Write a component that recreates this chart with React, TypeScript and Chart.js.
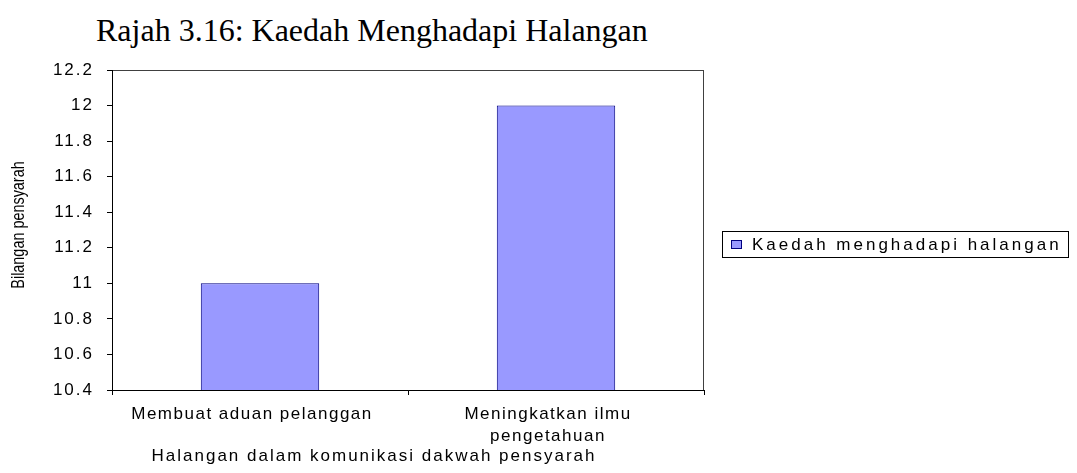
import React, { useEffect, useRef } from "react";
import { Chart, registerables } from "chart.js";

Chart.register(...registerables);

const chartTitle = "Rajah 3.16: Kaedah Menghadapi Halangan";
const categories: (string | string[])[] = [
  "Membuat aduan pelanggan",
  ["Meningkatkan ilmu", "pengetahuan"],
];
const seriesLabel = "Kaedah menghadapi halangan";
const seriesValues = [11, 12];
const yTickValues = [10.4, 10.6, 10.8, 11, 11.2, 11.4, 11.6, 11.8, 12, 12.2];
const yTickLabels = ["10.4", "10.6", "10.8", "11", "11.2", "11.4", "11.6", "11.8", "12", "12.2"];
const xAxisTitle = "Halangan dalam komunikasi dakwah pensyarah";
const yAxisTitle = "Bilangan pensyarah";

const SANS = '"Liberation Sans", Arial, sans-serif';

function wrapDraw(obj: any, method: string, spacing: string, dx: number, dy: number, sy: number) {
  const key = "__wrapped_" + method;
  if (obj[key]) return;
  const orig = obj[method];
  obj[method] = function (...args: any[]) {
    const c = this.ctx;
    c.save();
    (c as any).letterSpacing = spacing;
    const cy = (this.top + this.bottom) / 2;
    c.translate(dx, cy + dy);
    c.scale(1, sy);
    c.translate(0, -cy);
    const r = orig.apply(this, args);
    c.restore();
    return r;
  };
  obj[key] = true;
}

const textPlugin = {
  id: "textTweaks",
  beforeDraw(chart: any) {
    const x = chart.scales.x;
    const y = chart.scales.y;
    if (x) {
      wrapDraw(x, "drawLabels", "1.5px", -8, 0, 1);
      wrapDraw(x, "drawTitle", "2px", -34, 0, 1);
    }
    if (y) {
      wrapDraw(y, "drawLabels", "2px", 0, 0, 1);
      wrapDraw(y, "drawTitle", "0px", 0, -5, 0.8);
    }
  },
};

const framePlugin = {
  id: "frame",
  beforeDraw(chart: any) {
    const { ctx, chartArea } = chart;
    ctx.save();
    ctx.strokeStyle = "#404040";
    ctx.lineWidth = 1;
    ctx.strokeRect(
      Math.round(chartArea.left) + 0.5,
      Math.round(chartArea.top) + 0.5,
      Math.round(chartArea.right - chartArea.left) - 1,
      Math.round(chartArea.bottom - chartArea.top)
    );
    ctx.restore();
  },
};

const boxLegendPlugin = {
  id: "boxLegend",
  afterDraw(chart: any) {
    const { ctx, chartArea } = chart;
    const ds = chart.data.datasets[0];
    ctx.save();
    ctx.font = "17px " + SANS;
    (ctx as any).letterSpacing = "3px";
    const tw = ctx.measureText(ds.label).width;
    const pad = 9;
    const sw = 11;
    const sh = 9;
    const gap = 10;
    const w = Math.round(pad + sw + gap + tw + 6);
    const h = 26;
    const x = Math.round(chartArea.right + 18);
    const y = Math.round((chartArea.top + chartArea.bottom) / 2 + 1);
    ctx.fillStyle = "#ffffff";
    ctx.fillRect(x, y, w, h);
    ctx.strokeStyle = "#000000";
    ctx.lineWidth = 1;
    ctx.strokeRect(x + 0.5, y + 0.5, w, h);
    const sx = x + pad;
    const sy = Math.round(y + (h - sh) / 2);
    ctx.fillStyle = ds.backgroundColor;
    ctx.fillRect(sx, sy, sw, sh);
    ctx.strokeStyle = ds.borderColor;
    ctx.strokeRect(sx + 0.5, sy + 0.5, sw - 1, sh - 1);
    ctx.fillStyle = "#000000";
    ctx.textBaseline = "middle";
    ctx.textAlign = "left";
    ctx.fillText(ds.label, sx + sw + gap, y + h / 2 + 1);
    ctx.restore();
  },
};

export default function App() {
  const canvasRef = useRef<HTMLCanvasElement | null>(null);

  useEffect(() => {
    const canvas = canvasRef.current;
    if (!canvas) return;
    const chart = new Chart(canvas, {
      type: "bar",
      data: {
        labels: categories,
        datasets: [
          {
            label: seriesLabel,
            data: seriesValues,
            backgroundColor: "#9999FF",
            borderColor: "#000080",
            borderWidth: 1,
            barPercentage: 0.5,
            categoryPercentage: 0.8,
          },
        ],
      },
      options: {
        responsive: false,
        animation: false,
        layout: { padding: { top: 70, right: 373, bottom: 0, left: 0 } },
        plugins: {
          legend: { display: false },
          title: { display: false },
          tooltip: { enabled: false },
        },
        scales: {
          x: {
            offset: true,
            grid: {
              offset: true,
              drawOnChartArea: false,
              drawTicks: true,
              tickLength: 5,
              color: "#000000",
            },
            border: { display: true, color: "#000000", width: 1 },
            ticks: {
              color: "#000000",
              font: { family: SANS, size: 17, lineHeight: 1.25 },
              maxRotation: 0,
              minRotation: 0,
              autoSkip: false,
              padding: 9,
            },
            title: {
              display: true,
              text: xAxisTitle,
              color: "#000000",
              font: { family: SANS, size: 17, lineHeight: 1.2 },
              padding: { top: 4, bottom: 6 },
            },
            afterFit: (scale: any) => {
              scale.height = 83;
            },
          },
          y: {
            min: 10.4,
            max: 12.2,
            beginAtZero: false,
            grid: {
              drawOnChartArea: false,
              drawTicks: true,
              tickLength: 5,
              color: "#000000",
            },
            border: { display: true, color: "#000000", width: 1 },
            afterBuildTicks: (scale: any) => {
              scale.ticks = yTickValues.map((v) => ({ value: v }));
            },
            ticks: {
              color: "#000000",
              font: { family: SANS, size: 17 },
              padding: 13,
              callback: (v: any) => {
                const i = yTickValues.indexOf(Number(v));
                return i >= 0 ? yTickLabels[i] : "";
              },
            },
            title: {
              display: true,
              text: yAxisTitle,
              color: "#000000",
              font: { family: SANS, size: 18, lineHeight: 1.2 },
              padding: { top: 8, bottom: 0 },
            },
            afterFit: (scale: any) => {
              scale.width = 112;
            },
          },
        },
      },
      plugins: [framePlugin, textPlugin, boxLegendPlugin],
    });
    return () => {
      chart.destroy();
    };
  }, []);

  return (
    <div style={{ position: "absolute", left: 0, top: 0, width: 1077, height: 473, background: "#ffffff" }}>
      <div
        style={{
          position: "absolute",
          left: 96,
          top: 14,
          fontFamily: '"Liberation Serif", "Times New Roman", serif',
          fontSize: 32,
          lineHeight: "32px",
          color: "#000000",
          whiteSpace: "nowrap",
        }}
      >
        {chartTitle}
      </div>
      <canvas
        ref={canvasRef}
        width={1077}
        height={473}
        style={{ position: "absolute", left: 0, top: 0, width: 1077, height: 473 }}
      />
    </div>
  );
}
